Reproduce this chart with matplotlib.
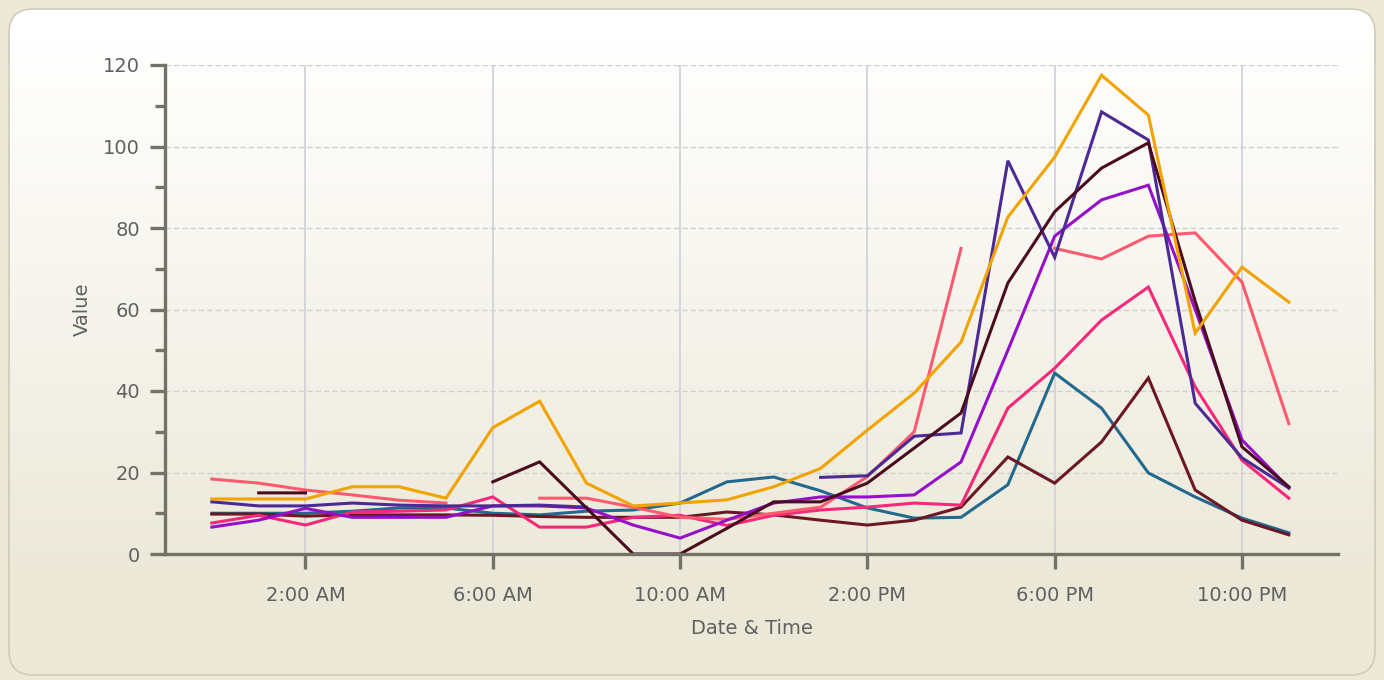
import numpy as np
import matplotlib
matplotlib.use('Agg')
import matplotlib.pyplot as plt
from matplotlib.patches import FancyBboxPatch
from matplotlib.ticker import MultipleLocator

nan = np.nan

#%% data (one value per hour, nan = gap)
hours = list(range(24))
tick_hours = [2, 6, 10, 14, 18, 22]
tick_labels = ['2:00 AM', '6:00 AM', '10:00 AM', '2:00 PM', '6:00 PM', '10:00 PM']

orange = [13.5, 13.5, 13.5, 16.5, 16.5, 13.7, 31, 37.5, 17.4, 11.8, 12.5, 13.3,
          16.5, 21, 30.4, 39.5, 52, 82.7, 97.4, 117.5, 107.7, 54.2, 70.4, 61.8]
salmon = [18.4, 17.4, 15.7, 14.5, 13.2, 12.5, nan, 13.7, 13.7, 11.5, 9, 8.5,
          10, 11.5, 19, 30, 75, nan, 75, 72.4, 78, 78.8, 66.7, 32]
hotpink = [7.6, 9.5, 7.1, 10.3, 10.5, 10.8, 14, 6.6, 6.6, 9, 9.5, 7,
           9.5, 10.8, 11.5, 12.5, 12, 35.8, 45.6, 57.4, 65.5, 41, 23, 13.7]
violet = [6.6, 8.3, 11.2, 9, 9, 9, 11.8, 11.8, 11.3, 7.1, 3.9, 8.3,
          12.5, 14, 14, 14.5, 22.6, 50, 78, 86.9, 90.5, 60, 28, 16.2]
indigo = [12.8, 11.8, 11.8, 12.5, 12, 11.8, 11.8, 12, 11.5, nan, nan, nan,
          nan, 18.8, 19.2, 28.9, 29.7, 96.5, 72.8, 108.5, 101.6, 37, 23.6, 16.2]
maroon = [nan, 15, 15, nan, nan, nan, 17.7, 22.6, 11.3, 0, 0, 6.3,
          12.8, 12.8, 17.4, 26, 34.6, 66.5, 84, 94.7, 100.9, 62, 26.3, 16.5]
darkred = [9.8, 9.8, 9.3, 9.6, 9.6, 9.6, 9.5, 9.2, 9, 9, 9, 10.3,
           9.6, 8.3, 7.1, 8.3, 11.5, 23.8, 17.4, 27.5, 43.2, 15.7, 8.3, 4.7]
teal = [10, 10, 10, 10.5, 11.3, 11.3, 10, 9.6, 10.5, 10.8, 12.5, 17.7,
        18.9, 15.5, 11.3, 8.8, 9, 17, 44.4, 35.8, 19.9, 14, 8.8, 5.2]

series = [
    (teal, '#23698e'),
    (darkred, '#6b1824'),
    (hotpink, '#f5287a'),
    (salmon, '#ff5a6e'),
    (violet, '#9510c8'),
    (indigo, '#4c2a94'),
    (maroon, '#4a0c1e'),
    (orange, '#f2a300'),
]

W, H = 1384, 680
fig = plt.figure(figsize=(W / 100, H / 100), dpi=100, facecolor='#ece9d8')

#%% rounded panel with vertical gradient
bg = fig.add_axes([0, 0, 1, 1])
bg.set_xlim(0, W)
bg.set_ylim(H, 0)
bg.axis('off')
panel = FancyBboxPatch((9, 9), W - 18, H - 14,
                       boxstyle='round,pad=0,rounding_size=24',
                       facecolor='none', edgecolor='#cfcbb8', lw=1.2, zorder=2)
bg.add_patch(panel)
top = np.array([1.0, 1.0, 1.0])
bot = np.array([0.925, 0.913, 0.85])
t = np.clip((np.linspace(0, H, 200) - 40) / 540, 0, 1)[:, None]
grad = top * (1 - t) + bot * t
img = bg.imshow(grad[:, None, :], extent=[0, W, H, 0], aspect='auto', zorder=1)
img.set_clip_path(panel)

#%% chart
ax = fig.add_axes([165 / W, 1 - 554 / H, (1338 - 165) / W, (554 - 65) / H])
ax.set_facecolor('none')
for vals, col in series:
    ax.plot(hours, vals, color=col, lw=2.2, solid_joinstyle='miter')

ax.set_xlim(-1, 24.05)
ax.set_ylim(0, 120)
ax.set_xticks(tick_hours)
ax.set_xticklabels(tick_labels)
ax.yaxis.set_major_locator(MultipleLocator(20))
ax.yaxis.set_minor_locator(MultipleLocator(10))

ax.grid(axis='y', which='major', color='#cfcfcf', ls=(0, (4, 2)), lw=1.0)
ax.grid(axis='x', which='major', color='#d2d2da', ls='-', lw=1.3)
ax.set_axisbelow(True)

for s in ['top', 'right']:
    ax.spines[s].set_visible(False)
for s in ['left', 'bottom']:
    ax.spines[s].set_color('#727266')
    ax.spines[s].set_linewidth(2.4)

ax.tick_params(axis='both', which='major', length=11, width=2.4, color='#727266',
               labelsize=14, labelcolor='#606060')
ax.tick_params(axis='x', which='major', pad=12)
ax.tick_params(axis='y', which='major', pad=7)
ax.tick_params(axis='y', which='minor', length=7, width=2.4, color='#727266')

ax.set_xlabel('Date & Time', fontsize=14, color='#606060', labelpad=10)
ax.set_ylabel('Value', fontsize=14, color='#606060', labelpad=8)

fig.savefig('out.png', dpi=100, facecolor=fig.get_facecolor())
